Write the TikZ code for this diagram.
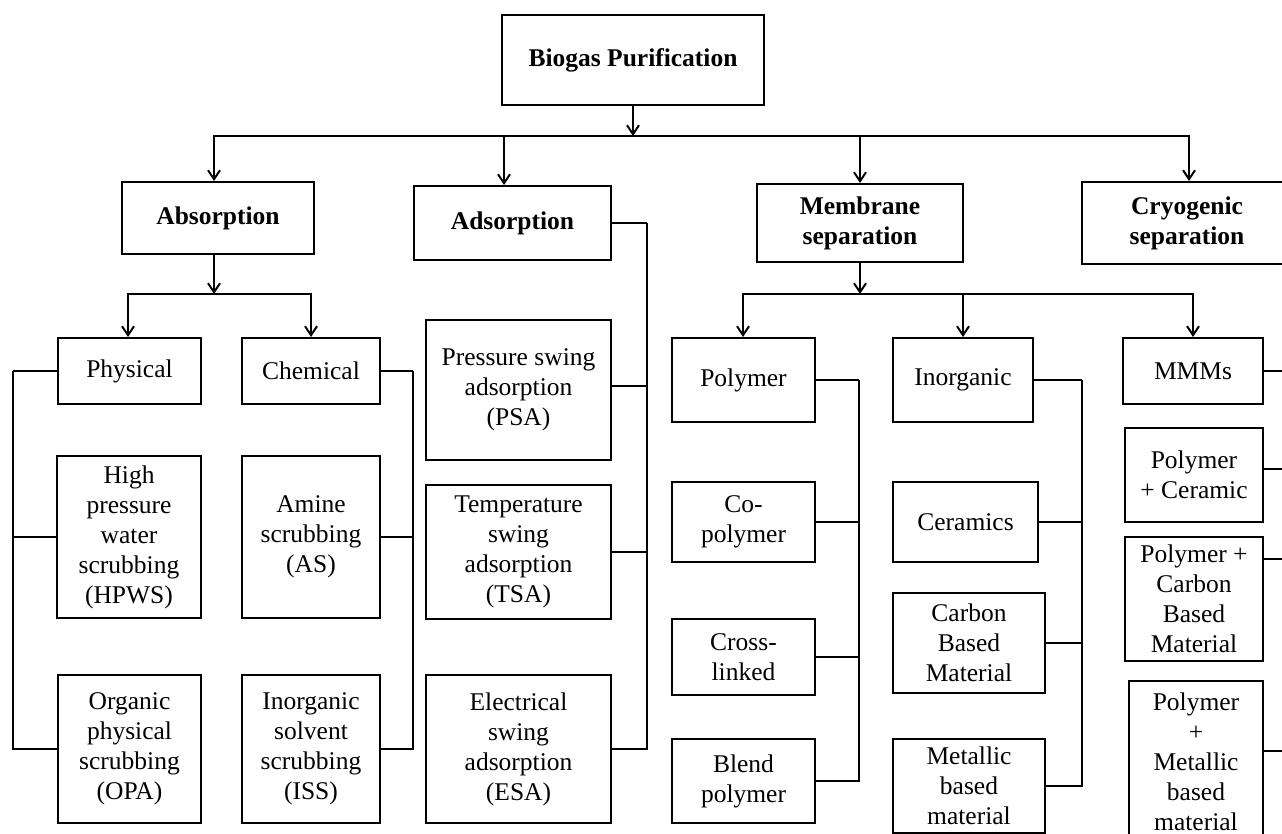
\documentclass[tikz,border=0pt]{standalone}
\usepackage{fontspec}
\setmainfont{Liberation Serif}
\usetikzlibrary{arrows.meta}
\newcommand\bxfont{\fontsize{25.5}{30}\selectfont}

\begin{document}
\begin{tikzpicture}[x=1pt,y=1pt,yscale=-1,
  box/.style={draw, line width=2pt, align=center, inner sep=1pt, font=\bxfont},
  head/.style={box, font=\bxfont\bfseries},
  wh/.style 2 args={minimum width=#1pt, minimum height=#2pt},
  link/.style={line width=2pt},
  arr/.style={link, -{Straight Barb[length=9pt,width=12pt]}}]
%set diagram frame, width 1282 and height 834
\useasboundingbox (0,0) rectangle (1282,834);
\clip (0,0) rectangle (1282,834);
\fill [white] (0,0) rectangle (1282,834);

% Text Node
\node [head, wh={262}{90}] (bio) at (633,60) {Biogas Purification};
% Text Node
\node [head, wh={192}{72}] (abs) at (218,218) {Absorption};
% Text Node
\node [head, wh={197}{74}] (ads) at (512.5,223) {Adsorption};
% Text Node
\node [head, wh={206}{78}] (mem) at (860,223) {Membrane\\separation};
% Text Node
\node [head, wh={210}{82}] (cry) at (1187,223) {Cryogenic\\separation};

% Text Node
\node [box, wh={143}{66}] (phy) at (129.5,371) {Physical};
% Text Node
\node [box, wh={138}{66}] (che) at (311,371) {Chemical};
% Text Node
\node [box, wh={144}{162}] (hpws) at (129,537) {High\\pressure\\water\\scrubbing\\(HPWS)};
% Text Node
\node [box, wh={138}{162}] (ams) at (311,537) {Amine\\scrubbing\\(AS)};
% Text Node
\node [box, wh={143}{148}] (opa) at (129.5,749) {Organic\\physical\\scrubbing\\(OPA)};
% Text Node
\node [box, wh={138}{148}] (iss) at (311,749) {Inorganic\\solvent\\scrubbing\\(ISS)};

% Text Node
\node [box, wh={185}{140}] (psa) at (518.5,390) {Pressure swing\\adsorption\\(PSA)};
% Text Node
\node [box, wh={185}{134}] (tsa) at (518.5,552) {Temperature\\swing\\adsorption\\(TSA)};
% Text Node
\node [box, wh={185}{148}] (esa) at (518.5,749) {Electrical\\swing\\adsorption\\(ESA)};

% Text Node
\node [box, wh={143}{84}] (pol) at (743.5,380) {Polymer};
% Text Node
\node [box, wh={143}{80}] (cop) at (743.5,522) {Co-\\polymer};
% Text Node
\node [box, wh={143}{76}] (crs) at (743.5,657) {Cross-\\linked};
% Text Node
\node [box, wh={143}{84}] (bld) at (743.5,781) {Blend\\polymer};

% Text Node
\node [box, wh={140}{84}] (ino) at (963,380) {Inorganic};
% Text Node
\node [box, wh={145}{80}] (cer) at (965.5,522) {Ceramics};
% Text Node
\node [box, wh={152}{100}] (cbm) at (969,643) {Carbon\\Based\\Material};
% Text Node
\node [box, wh={152}{94}] (met) at (969,786) {Metallic\\based\\material};

% Text Node
\node [box, wh={140}{66}] (mmm) at (1193,371) {MMMs};
% Text Node
\node [box, wh={138}{94}] (pce) at (1194,475) {Polymer\\+ Ceramic};
% Text Node
\node [box, wh={138}{124}] (pcb) at (1194,599) {Polymer +\\Carbon\\Based\\Material};
% Text Node
\node [box, wh={134}{162}] (pmm) at (1196,762) {Polymer\\+\\Metallic\\based\\material};

%Straight Lines: tree arrows
\coordinate (j1) at (633,136);
\coordinate (j2) at (214,294);
\coordinate (j3) at (860,294);
\draw [arr] (bio) -- (j1);
\draw [arr] (j1) -| ([xshift=-4pt]abs.north);
\draw [arr] (j1) -| ([xshift=-8.5pt]ads.north);
\draw [arr] (j1) -| (mem.north);
\draw [arr] (j1) -| ([xshift=2pt]cry.north);
\draw [arr] ([xshift=-4pt]abs.south) -- (j2);
\draw [arr] (j2) -| ([xshift=-1.5pt]phy.north);
\draw [arr] (j2) -| (che.north);
\draw [arr] (mem) -- (j3);
\draw [arr] (j3) -| ([xshift=-0.5pt]pol.north);
\draw [arr] (j3) -| (ino.north);
\draw [arr] (j3) -| (mmm.north);

%Straight Lines: side buses
\coordinate (lbus) at (13,371);
\coordinate (cbus) at (413,371);
\coordinate (abus) at (647,223);
\coordinate (pbus) at (859,380);
\coordinate (ibus) at (1082,380);
\coordinate (mbus) at (1292,371);
\draw [link] (phy.west) -- (lbus);
\draw [link] (hpws.west) -| (lbus);
\draw [link] (opa.west) -| (lbus);
\draw [link] (che.east) -- (cbus);
\draw [link] (ams.east) -| (cbus);
\draw [link] (iss.east) -| (cbus);
\draw [link] (ads.east) -- (abus);
\draw [link] ([yshift=-4pt]psa.east) -| (abus);
\draw [link] (tsa.east) -| (abus);
\draw [link] (esa.east) -| (abus);
\draw [link] (pol.east) -- (pbus);
\draw [link] (cop.east) -| (pbus);
\draw [link] (crs.east) -| (pbus);
\draw [link] (bld.east) -| (pbus);
\draw [link] (ino.east) -- (ibus);
\draw [link] (cer.east) -| (ibus);
\draw [link] (cbm.east) -| (ibus);
\draw [link] (met.east) -| (ibus);
\draw [link] (mmm.east) -- (mbus);
\draw [link] ([yshift=-6pt]pce.east) -| (mbus);
\draw [link] ([yshift=-40pt]pcb.east) -| (mbus);
\draw [link] ([yshift=-11pt]pmm.east) -| (mbus);

\end{tikzpicture}
\end{document}
